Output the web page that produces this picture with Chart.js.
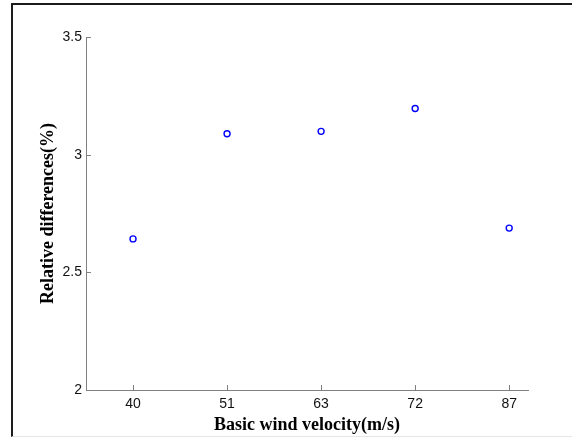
<!DOCTYPE html>
<html>
<head>
<meta charset="utf-8">
<script src="https://cdn.jsdelivr.net/npm/chart.js"></script>
<style>
  html, body { margin: 0; padding: 0; background: #fff; }
  #wrap { position: relative; width: 572px; height: 438px; }
  #frame {
    position: absolute; left: 11px; top: 3px; right: 0; bottom: 1px;
    border-left: 2px solid #1c1c1c; border-top: 2px solid #1c1c1c;
    border-bottom: 1px solid #e6e6e6;
    pointer-events: none;
  }
</style>
</head>
<body>
<div id="wrap">
  <canvas id="diffChart" width="572" height="438"></canvas>
  <div id="frame"></div>
</div>
<script>
// wind velocity cases (m/s) and relative differences (%)
const velocities = ['40', '51', '63', '72', '87'];
const relDiff = [2.642, 3.089, 3.099, 3.196, 2.688];
const yTicks = [2, 2.5, 3, 3.5];

const axisGray = '#808080';
const tickFont = { family: '"Liberation Sans", Arial, sans-serif', size: 14 };
const titleFont = { family: '"Liberation Serif", "Times New Roman", serif', size: 18, weight: 'bold' };

const points = relDiff.map((v, i) => ({ x: i + 1, y: v }));

// short tick marks pointing into the plot, matlab style
const inwardTicks = {
  id: 'inwardTicks',
  afterDraw(chart) {
    const { ctx, chartArea, scales } = chart;
    const len = 5;
    ctx.save();
    ctx.strokeStyle = axisGray;
    ctx.lineWidth = 1;
    ctx.beginPath();
    scales.x.ticks.forEach(t => {
      const px = Math.round(scales.x.getPixelForValue(t.value)) + 0.5;
      ctx.moveTo(px, chartArea.bottom);
      ctx.lineTo(px, chartArea.bottom - len);
    });
    scales.y.ticks.forEach(t => {
      const py = Math.round(scales.y.getPixelForValue(t.value)) + 0.5;
      ctx.moveTo(chartArea.left, py);
      ctx.lineTo(chartArea.left + len, py);
    });
    ctx.stroke();
    ctx.restore();
  }
};

new Chart(document.getElementById('diffChart'), {
  type: 'scatter',
  data: {
    datasets: [{
      data: points,
      pointStyle: 'circle',
      pointRadius: 3,
      pointHoverRadius: 3,
      borderWidth: 1.4,
      borderColor: '#0000ff',
      backgroundColor: 'rgba(0,0,0,0)'
    }]
  },
  plugins: [inwardTicks],
  options: {
    responsive: false,
    animation: false,
    layout: { padding: { left: 0, top: 37, right: 44, bottom: 0 } },
    plugins: { legend: { display: false }, tooltip: { enabled: false } },
    scales: {
      x: {
        type: 'linear',
        min: 0.5,
        max: 5.2,
        afterBuildTicks: s => { s.ticks = velocities.map((_, i) => ({ value: i + 1 })); },
        afterFit: s => { s.height = 48; },
        border: { color: axisGray, width: 1 },
        grid: { display: false, drawTicks: false },
        ticks: {
          color: '#111',
          font: tickFont,
          padding: 6,
          maxRotation: 0,
          callback: v => velocities[v - 1]
        },
        title: {
          display: true,
          text: 'Basic wind velocity(m/s)',
          color: '#000',
          font: titleFont,
          padding: { top: 0, bottom: 2 }
        }
      },
      y: {
        min: 2,
        max: 3.5,
        afterBuildTicks: s => { s.ticks = yTicks.map(v => ({ value: v })); },
        afterFit: s => { s.width = 86; },
        border: { color: axisGray, width: 1 },
        grid: { display: false, drawTicks: false },
        ticks: {
          color: '#111',
          font: tickFont,
          padding: 4,
          callback: v => String(v)
        },
        title: {
          display: true,
          text: 'Relative differences(%)',
          color: '#000',
          font: titleFont,
          padding: { top: 38, bottom: 0 }
        }
      }
    }
  }
});
</script>
</body>
</html>
